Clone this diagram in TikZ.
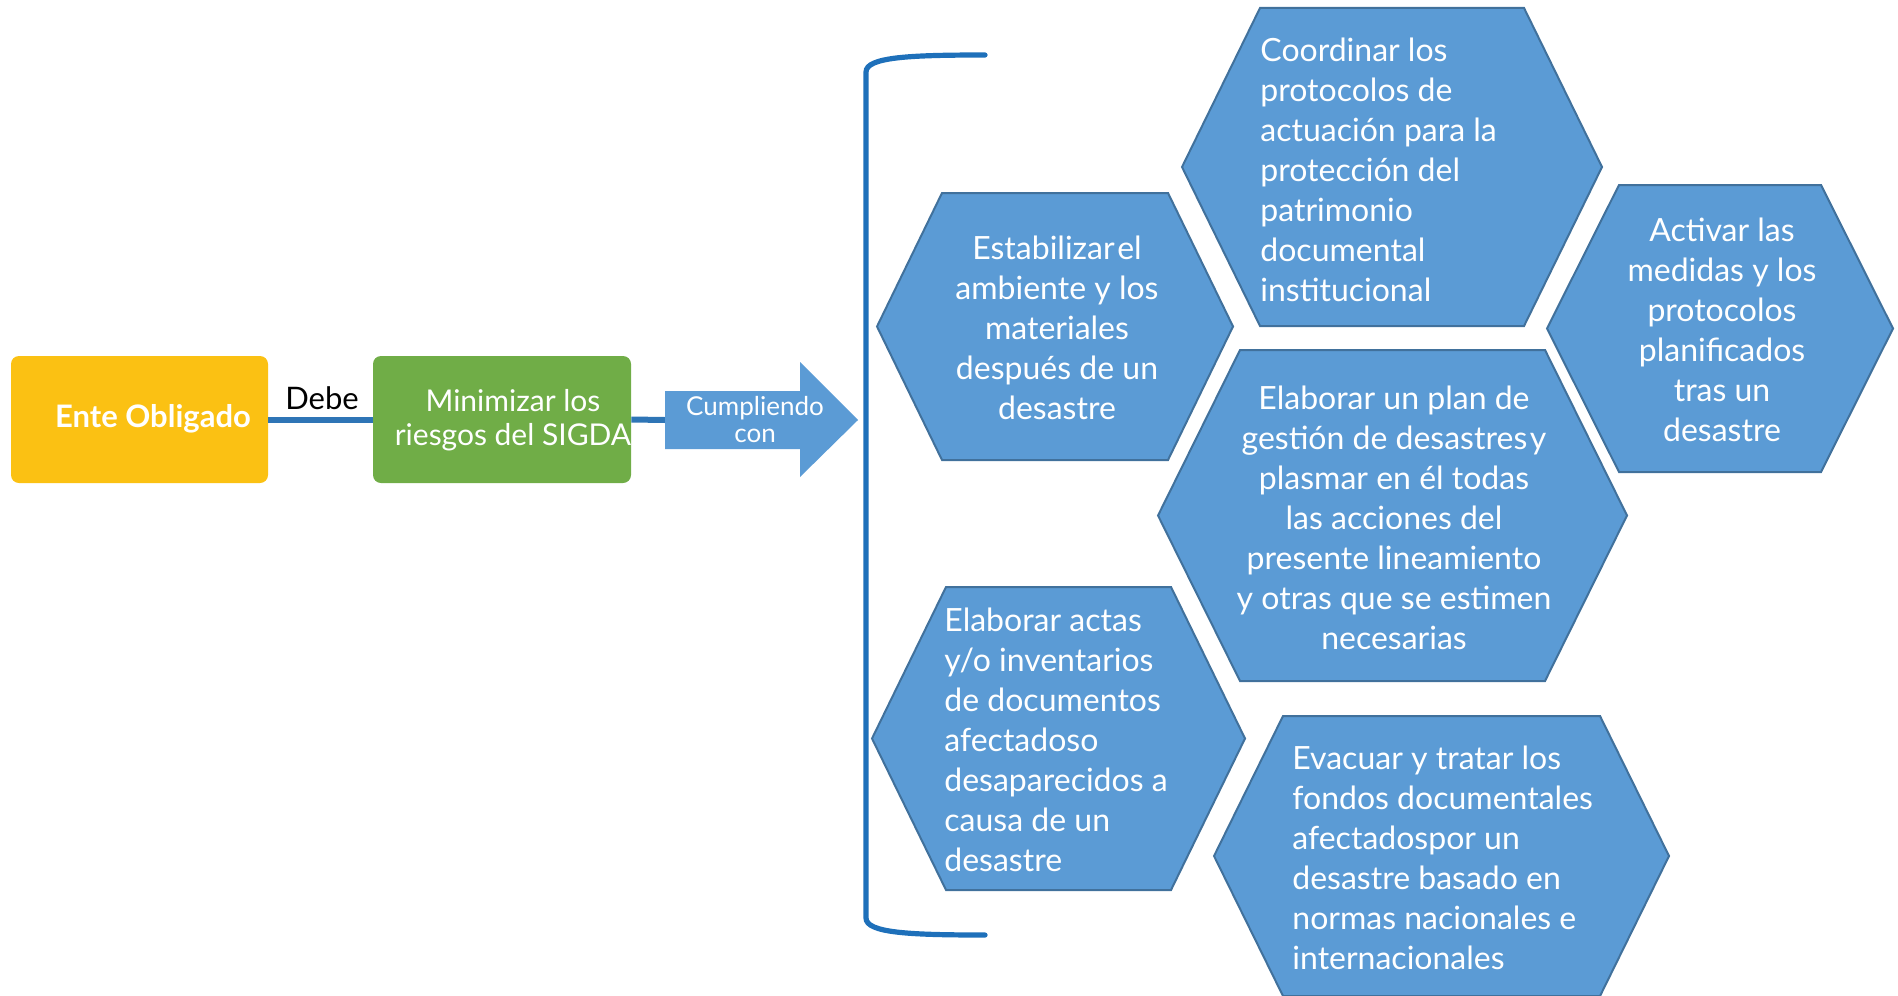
\documentclass[tikz,border=0pt]{standalone}
\usepackage{fontspec}
\setmainfont{Lato}
\definecolor{yellowc}{RGB}{251,193,19}
\definecolor{greenc}{RGB}{112,173,71}
\definecolor{hexfill}{RGB}{91,155,213}
\definecolor{hexborder}{RGB}{65,113,156}
\definecolor{linecol}{RGB}{46,117,182}
\definecolor{brackc}{RGB}{30,112,186}
\newcommand\hexshape[6]{%
  \draw[hexstyle] (#1,{(#3+#4)/2}) -- (#1+#5,#3) -- (#2-#5,#3) -- (#2,{(#3+#4)/2}) -- (#2-#5,#4) -- (#1+#5,#4) -- cycle;
  \coordinate (#6) at ({(#1+#2)/2},{(#3+#4)/2});}
\begin{document}
\begin{tikzpicture}[x=0.5pt,y=-0.5pt,
  hexstyle/.style={fill=hexfill,draw=hexborder,line width=1pt},
  htext/.style={text=white,font=\fontsize{16}{20}\selectfont,inner sep=0pt},
  boxst/.style={rounded corners=4pt,inner sep=0pt,draw=none},
  conn/.style={draw=linecol,line width=3pt},
  brack/.style={draw=brackc,line width=2.6pt,line cap=round}]
\useasboundingbox (0,0) rectangle (1898,995);
% left boxes
\node[boxst,fill=yellowc,minimum width=128.5pt,minimum height=63.5pt] (ente) at (139.5,419.5) {};
\node[boxst,fill=greenc,minimum width=129pt,minimum height=63.5pt] (mini) at (502,419.5) {};
\node[text=white,inner sep=0pt,font=\bfseries\fontsize{15.5}{18}\selectfont] (enteT) at (153,419) {Ente Obligado};
\node[text=white,inner sep=0pt,align=center,font=\fontsize{15}{17}\selectfont] (miniT) at (513,420) {Minimizar los\\riesgos del SIGDA};
\draw[conn] (ente.east) -- (mini.west);
\node[text=black,inner sep=0pt,font=\fontsize{15.5}{18}\selectfont] (debe) at (322,398) {Debe};
% arrow
\coordinate (arrT) at (665,420);
\draw[conn] (mini.east) -- (arrT);
\fill[hexfill] (665,391) -- (800,391) -- (800,362) -- (858,420) -- (800,477) -- (800,449) -- (665,449) -- cycle;
\node[text=white,inner sep=0pt,align=center,font=\fontsize{13}{13.5}\selectfont] (cumpl) at (755,420) {Cumpliendo\\con};
% bracket
\coordinate (bt) at (985,55);
\coordinate (bb) at (985,935);
\draw[brack] (bt) .. controls (910,55) and (866,57) .. (866,72) -- (866,918) .. controls (866,933) and (910,935) .. (bb);
% hexagons
\hexshape{877}{1233}{193}{460}{65}{h1}
\hexshape{1182}{1602}{8}{326}{78}{h2}
\hexshape{1547}{1893}{185}{472}{72}{h3}
\hexshape{1158}{1627}{350}{681}{82}{h4}
\hexshape{872}{1245}{587}{890}{74}{h5}
\hexshape{1214}{1669}{716}{996}{69}{h6}
\node[htext,align=center] (t1) at (1057,328) {Estabilizar\hspace{0.08em}el\\ambiente y los\\materiales\\después de un\\desastre};
\node[htext,align=left,anchor=west] (t2) at (1260,170) {Coordinar los\\protocolos de\\actuación para la\\protección del\\patrimonio\\documental\\institucional};
\node[htext,align=center] (t3) at (1722,330) {Activar las\\medidas y los\\protocolos\\planificados\\tras un\\desastre};
\node[htext,align=center] (t4) at (1394,518) {Elaborar un plan de\\gestión de desastres\hspace{0.08em}y\\plasmar en él todas\\las acciones del\\presente lineamiento\\y otras que se estimen\\necesarias};
\node[htext,align=left,anchor=west] (t5) at (944,740) {Elaborar actas\\y/o inventarios\\de documentos\\afectadoso\\desaparecidos a\\causa de un\\desastre};
\node[htext,align=left,anchor=west] (t6) at (1292,858) {Evacuar y tratar los\\fondos documentales\\afectadospor un\\desastre basado en\\normas nacionales e\\internacionales};
\end{tikzpicture}
\end{document}
